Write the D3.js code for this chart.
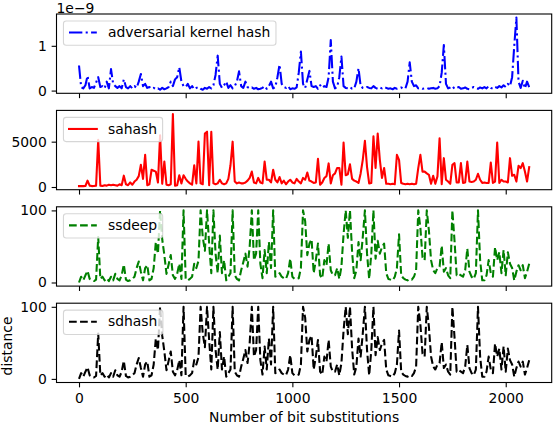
<!DOCTYPE html>
<html><head><meta charset="utf-8">
<script src="https://cdn.jsdelivr.net/npm/d3@7"></script>
<style>
body{margin:0;background:#fff}
svg{display:block}
text{font-family:"DejaVu Sans",sans-serif;font-size:13.9px;fill:#000}
</style>
</head><body>
<svg id="chart" width="554" height="424"></svg>
<script>
// ---------------- data ----------------
const xValues = [0,10,20,30,40,50,60,70,80,90,100,110,120,130,140,150,160,170,180,190,200,210,220,230,240,250,260,270,280,290,300,310,320,330,340,350,360,370,380,390,400,410,420,430,440,450,460,470,480,490,500,510,520,530,540,550,560,570,580,590,600,610,620,630,640,650,660,670,680,690,700,710,720,730,740,750,760,770,780,790,800,810,820,830,840,850,860,870,880,890,900,910,920,930,940,950,960,970,980,990,1000,1010,1020,1030,1040,1050,1060,1070,1080,1090,1100,1110,1120,1130,1140,1150,1160,1170,1180,1190,1200,1210,1220,1230,1240,1250,1260,1270,1280,1290,1300,1310,1320,1330,1340,1350,1360,1370,1380,1390,1400,1410,1420,1430,1440,1450,1460,1470,1480,1490,1500,1510,1520,1530,1540,1550,1560,1570,1580,1590,1600,1610,1620,1630,1640,1650,1660,1670,1680,1690,1700,1710,1720,1730,1740,1750,1760,1770,1780,1790,1800,1810,1820,1830,1840,1850,1860,1870,1880,1890,1900,1910,1920,1930,1940,1950,1960,1970,1980,1990,2000,2010,2020,2030,2040,2050,2060,2070,2080,2090,2100,2110];

// adversarial kernel hash, in units of 1e-9
const akhValues = [
0.56,0.08,0.05,0.12,0.33,0.05,0.08,0.06,0.18,0.30,
0.08,0.10,0.05,0.20,0.05,0.48,0.15,0.10,0.06,0.10,
0.05,0.25,0.08,0.05,0.10,0.05,0.10,0.06,0.20,0.37,
0.10,0.15,0.06,0.08,0.04,0.06,0.03,0.05,0.02,0.06,
0.03,0.05,0.08,0.20,0.10,0.25,0.30,0.52,0.20,0.10,
0.08,0.15,0.05,0.10,0.03,0.06,0.08,0.04,0.02,0.06,
0.04,0.08,0.05,0.12,0.35,0.78,0.15,0.06,0.12,0.20,
0.06,0.12,0.05,0.10,0.20,0.43,0.10,0.06,0.20,0.08,
0.05,0.07,0.04,0.06,0.03,0.04,0.06,0.10,0.04,0.10,
0.20,0.05,0.08,0.30,0.58,0.15,0.08,0.06,0.10,0.03,
0.05,0.04,0.07,0.40,0.87,0.15,0.06,0.25,0.44,0.10,
0.08,0.10,0.04,0.12,0.06,0.10,0.08,0.30,1.13,0.20,
0.05,0.08,0.30,0.76,0.10,0.06,0.05,0.08,0.04,0.05,
0.20,0.50,0.10,0.06,0.05,0.08,0.06,0.05,0.10,0.06,
0.04,0.07,0.05,0.08,0.06,0.04,0.05,0.03,0.06,0.04,
0.05,0.07,0.04,0.05,0.20,0.63,0.20,0.10,0.12,0.05,
0.06,0.04,0.05,0.06,0.04,0.05,0.06,0.04,0.05,0.10,
0.40,1.02,0.15,0.05,0.07,0.10,0.04,0.06,0.08,0.04,
0.05,0.07,0.04,0.03,0.06,0.08,0.05,0.04,0.07,0.05,
0.08,0.05,0.10,0.06,0.04,0.08,0.06,0.10,0.07,0.12,
0.08,0.15,0.10,0.30,1.00,1.63,0.20,0.06,0.22,0.05,0.20,0.08];

const sahashValues = [
100,100,100,110,700,150,100,110,150,5200,
150,110,200,150,250,200,250,200,150,300,
200,1250,300,200,500,250,600,800,1200,2450,
900,3550,200,300,1900,1800,1700,500,5700,350,
2800,250,200,300,8050,150,200,1300,400,1300,
900,600,400,250,2400,400,5000,400,300,5900,
6100,200,6100,400,300,400,800,400,300,400,
900,2400,5000,600,400,500,400,400,500,700,
1000,1700,500,400,1000,500,400,2800,800,800,
500,1900,800,500,1100,400,700,300,600,800,
500,400,900,600,400,1000,800,1600,700,600,
450,500,3100,250,500,1000,1200,2600,400,1300,
1500,2100,2100,250,4900,1300,1400,2500,900,700,
600,450,1500,3000,5100,2200,400,450,5600,2100,
5900,3000,1000,2100,350,350,300,350,300,3540,
3000,450,350,300,350,300,350,300,350,2080,
3540,1700,1700,1500,1350,350,1240,350,1170,5360,
300,3180,800,600,350,2450,2630,500,500,2630,
450,500,2800,600,550,600,800,1460,800,450,
500,450,450,2700,450,600,4890,450,800,600,
600,500,3180,1240,1350,600,2340,2080,2630,1700,600,2190];

const ssdeepValues = [
0,8,3,10,16,5,3,2,4,63,
5,8,3,6,2,8,3,12,5,3,
10,25,4,2,3,5,8,20,29,15,
3,20,24,3,5,20,56,40,100,60,
38,12,25,38,10,5,12,26,5,100,
5,3,5,8,26,20,30,100,63,44,
100,54,13,100,40,13,65,13,31,3,
8,13,100,10,5,3,17,28,40,22,
50,100,31,40,100,26,6,45,13,56,
20,100,8,10,13,8,6,5,13,33,
8,5,5,6,20,100,85,38,54,60,
13,31,54,10,6,31,24,54,17,10,
10,20,5,22,67,100,62,100,42,6,
17,56,31,63,100,40,5,40,100,33,
58,40,49,54,13,5,4,3,8,20,
67,10,6,4,3,5,4,8,17,100,
76,35,31,100,72,31,17,13,20,22,
51,15,20,10,6,100,58,10,12,10,
8,17,47,15,8,5,13,100,31,3,
3,10,31,13,8,49,31,42,13,45,
10,42,26,20,3,15,24,17,24,6,15,26];

const sdhashValues = [
0,8,3,10,16,5,3,2,4,63,
5,8,3,6,2,8,3,12,5,3,
10,25,4,2,3,5,8,20,29,15,
3,20,24,3,5,20,56,40,100,60,
38,12,25,38,10,5,12,26,5,100,
5,3,5,8,26,20,30,100,63,44,
100,54,13,100,40,13,65,13,31,3,
8,13,100,10,5,3,17,28,40,22,
50,100,31,40,100,26,6,45,13,56,
20,100,8,10,13,8,6,5,13,33,
8,5,5,6,20,100,85,38,54,60,
13,31,54,10,6,31,24,54,17,10,
10,20,5,22,67,100,62,100,42,6,
17,56,31,63,100,40,5,40,100,33,
58,40,49,54,13,5,4,3,8,20,
67,10,6,4,3,5,4,8,17,100,
76,35,31,100,72,31,17,13,20,22,
51,15,20,10,6,100,58,10,12,10,
8,17,47,15,8,5,13,100,31,3,
3,10,31,13,8,49,31,42,13,45,
10,42,26,20,3,15,24,17,24,6,15,26];

const seriesNames = ["adversarial kernel hash","sahash","ssdeep","sdhash"];
const xTickValues = [0,500,1000,1500,2000];
const yTickValues = [[0,1],[0,5000],[0,100],[0,100]];
const akhOffsetLabel = "1e\u22129";
const xAxisLabel = "Number of bit substitutions";
const yAxisLabel = "distance";

// ---------------- layout / style ----------------
const svg = d3.select("#chart");
const plotLeft = 56.5, plotRight = 551.7;
const panelTops = [14, 110.4, 206.8, 303.2];
const panelH = 79.3;
const fs = 13.9;
const tickLen = 4.86;
const styles = [
  {color:"#0000ff", dash:"13.33,3.33,2.08,3.33"},
  {color:"#ff0000", dash:null},
  {color:"#008000", dash:"7.71,3.33"},
  {color:"#000000", dash:"7.71,3.33"}
];
const allSeries = [akhValues, sahashValues, ssdeepValues, sdhashValues];

const xmin = d3.min(xValues), xmax = d3.max(xValues), xspan = xmax - xmin;
const x = d3.scaleLinear()
  .domain([xmin - 0.05*xspan, xmax + 0.05*xspan])
  .range([plotLeft, plotRight]);

const defs = svg.append("defs");

allSeries.forEach((vals, k) => {
  const top = panelTops[k], bottom = top + panelH;
  const [vmin, vmax] = d3.extent(vals);
  const vspan = vmax - vmin;
  const y = d3.scaleLinear()
    .domain([vmin - 0.05*vspan, vmax + 0.05*vspan])
    .range([bottom, top]);

  const g = svg.append("g");

  defs.append("clipPath").attr("id", "clip"+k)
    .append("rect").attr("x", plotLeft).attr("y", top)
    .attr("width", plotRight - plotLeft).attr("height", panelH);

  const data = xValues.map((xv, i) => ({x: xv, v: vals[i]}));
  const line = d3.line().x(d => x(d.x)).y(d => y(d.v));
  g.append("path")
    .attr("clip-path", `url(#clip${k})`)
    .attr("d", line(data))
    .attr("fill", "none")
    .attr("stroke", styles[k].color)
    .attr("stroke-width", 2.08)
    .attr("stroke-linejoin", "round")
    .attr("stroke-linecap", styles[k].dash ? "butt" : "square")
    .attr("stroke-dasharray", styles[k].dash);

  // y axis
  const ya = g.append("g").attr("transform", `translate(${plotLeft},0)`)
    .call(d3.axisLeft(y).tickValues(yTickValues[k]).tickSize(tickLen).tickPadding(4.86)
      .tickFormat(d3.format("d")));
  ya.select(".domain").remove();
  ya.selectAll("line").attr("stroke", "#000").attr("stroke-width", 1.1);
  ya.selectAll("text").attr("font-family", "DejaVu Sans").attr("font-size", fs).attr("fill", "#000");

  // x axis (ticks everywhere, labels only on last)
  const xa = g.append("g").attr("transform", `translate(0,${bottom})`)
    .call(d3.axisBottom(x).tickValues(xTickValues).tickSize(tickLen).tickPadding(6)
      .tickFormat(k === 3 ? d3.format("d") : () => ""));
  xa.select(".domain").remove();
  xa.selectAll("line").attr("stroke", "#000").attr("stroke-width", 1.1);
  xa.selectAll("text").attr("font-family", "DejaVu Sans").attr("font-size", fs).attr("fill", "#000");

  // frame
  g.append("rect")
    .attr("x", plotLeft).attr("y", top)
    .attr("width", plotRight - plotLeft).attr("height", panelH)
    .attr("fill", "none").attr("stroke", "#000").attr("stroke-width", 1.1);

  // legend
  const lx = plotLeft + 6.95, ly = top + 6.95;
  const lg = g.append("g");
  const box = lg.append("rect");
  const t = lg.append("text")
    .attr("x", lx + 44.48).attr("y", ly + 16.2)
    .text(seriesNames[k]);
  const tw = t.node().getComputedTextLength();
  box.attr("x", lx).attr("y", ly).attr("rx", 2.78).attr("ry", 2.78)
    .attr("width", 44.48 + tw + 5.56).attr("height", 24.3)
    .attr("fill", "rgba(255,255,255,0.8)")
    .attr("stroke", "rgba(204,204,204,0.8)").attr("stroke-width", 1.1);
  lg.append("line")
    .attr("x1", lx + 5.56).attr("x2", lx + 5.56 + 27.8)
    .attr("y1", ly + 11.6).attr("y2", ly + 11.6)
    .attr("stroke", styles[k].color).attr("stroke-width", 2.08)
    .attr("stroke-dasharray", styles[k].dash)
    .attr("stroke-linecap", styles[k].dash ? "butt" : "square");
  t.raise();

  if (k === 0) {
    svg.append("text").attr("x", plotLeft).attr("y", 12.6).text(akhOffsetLabel);
  }
});

svg.append("text")
  .attr("x", (plotLeft + plotRight) / 2).attr("y", 421.5)
  .attr("text-anchor", "middle").text(xAxisLabel);

svg.append("text")
  .attr("transform", "translate(12,346) rotate(-90)")
  .attr("text-anchor", "middle").text(yAxisLabel);
</script>
</body></html>
